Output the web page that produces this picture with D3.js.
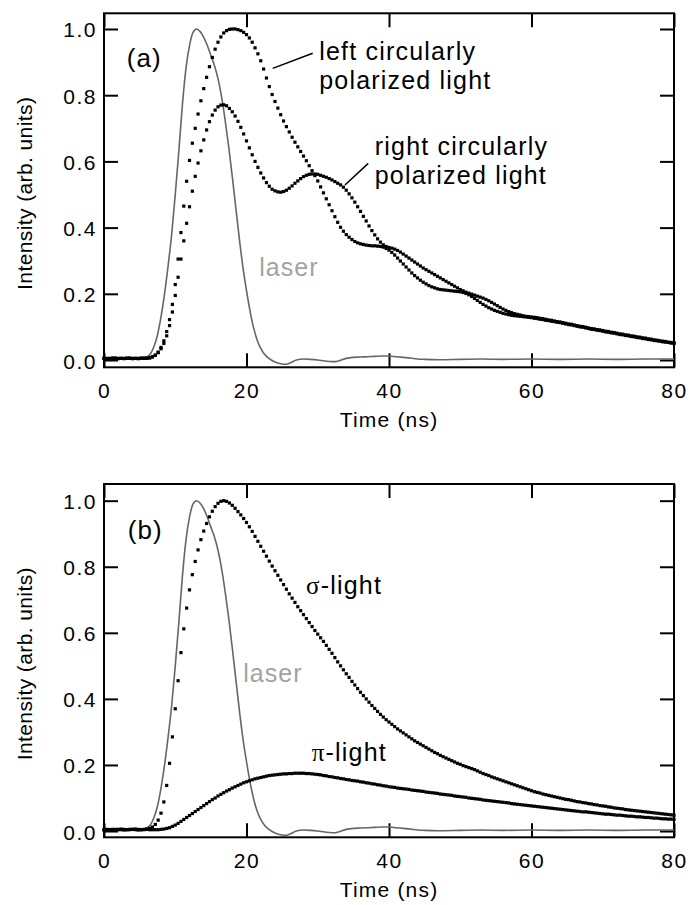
<!DOCTYPE html>
<html>
<head>
<meta charset="utf-8">
<script src="https://cdn.jsdelivr.net/npm/d3@7"></script>
<style>
  html, body { margin: 0; padding: 0; background: #fff; }
  svg { display: block; font-family: "Liberation Sans", Arial, Helvetica, sans-serif; }
</style>
</head>
<body>
<svg id="chart" width="690" height="905"></svg>
<script>
// Time between recorded samples of the streak-camera traces (ns)
const sampleStep = 0.4;

// (a) left circularly polarized emission, one value per sample
const leftCircular = [
  0.005,0.004,0.005,0.006,0.005,0.004,0.005,0.005,0.006,0.005,0.004,0.005,0.005,0.006,0.005,0.006,
  0.007,0.010,0.015,0.024,0.038,0.058,0.086,0.122,0.168,0.228,0.305,0.385,0.465,0.540,
  0.603,0.655,0.700,0.743,0.783,0.820,0.854,0.886,0.914,0.939,0.960,0.976,0.988,0.995,0.999,
  1.000,1.000,0.998,0.995,0.990,0.983,0.973,0.960,0.943,0.925,0.904,0.879,0.852,0.826,0.802,
  0.781,0.761,0.741,0.722,0.705,0.689,0.673,0.658,0.644,0.630,0.616,0.602,0.587,0.572,0.557,
  0.541,0.523,0.505,0.487,0.469,0.451,0.433,0.416,0.401,0.389,0.379,0.371,0.364,0.358,0.354,
  0.351,0.349,0.347,0.346,0.345,0.345,0.344,0.343,0.341,0.337,0.332,0.325,0.317,0.308,0.299,
  0.290,0.281,0.272,0.263,0.255,0.248,0.241,0.235,0.230,0.225,0.221,0.218,0.215,0.213,0.212,
  0.211,0.210,0.209,0.208,0.207,0.206,0.204,0.201,0.197,0.192,0.186,0.180,0.174,0.168,0.163,
  0.158,0.154,0.150,0.147,0.144,0.141,0.139,0.137,0.135,0.134,0.133,0.132,0.131,0.130,0.129,
  0.128,
  0.126,0.125,0.123,0.122,0.120,0.119,0.117,0.116,0.114,0.113,
  0.111,0.109,0.107,0.106,0.104,0.102,0.100,0.099,0.097,0.095,
  0.093,0.092,0.090,0.089,0.087,0.085,0.084,0.082,0.081,0.079,
  0.077,0.076,0.074,0.073,0.071,0.070,0.068,0.067,0.065,0.064,
  0.062,0.061,0.059,0.058,0.057,0.055,0.054,0.053,0.051,0.050
];

// (a) right circularly polarized emission
const rightCircular = [
  0.005,0.005,0.004,0.005,0.006,0.005,0.005,0.004,0.005,0.006,0.005,0.005,0.004,0.005,0.006,0.005,
  0.006,0.009,0.014,0.022,0.034,0.050,0.073,0.104,0.145,0.195,0.250,0.305,0.360,0.413,
  0.463,0.510,0.555,0.595,0.632,0.665,0.695,0.720,0.740,0.755,0.765,0.770,0.771,0.768,0.760,
  0.750,0.737,0.721,0.703,0.683,0.662,0.641,0.620,0.600,0.582,0.565,0.550,0.536,0.525,0.516,
  0.511,0.508,0.507,0.509,0.513,0.519,0.526,0.534,0.541,0.548,0.554,0.558,0.561,0.562,0.562,
  0.561,0.558,0.555,0.552,0.548,0.544,0.539,0.534,0.529,0.522,0.513,0.502,0.490,0.477,0.463,
  0.449,0.434,0.420,0.405,0.391,0.378,0.366,0.356,0.348,0.343,0.340,0.338,0.335,0.331,0.326,
  0.320,0.314,0.308,0.302,0.296,0.290,0.284,0.278,0.273,0.268,0.263,0.258,0.253,0.248,0.243,
  0.238,0.233,0.228,0.223,0.218,0.213,0.209,0.205,0.202,0.199,0.196,0.193,0.190,0.187,0.183,
  0.179,0.174,0.169,0.164,0.159,0.154,0.150,0.146,0.143,0.140,0.138,0.136,0.134,0.132,0.131,
  0.130,
  0.129,0.128,0.126,0.125,0.123,0.121,0.120,0.118,0.116,0.115,
  0.113,0.111,0.109,0.108,0.106,0.104,0.102,0.101,0.099,0.097,
  0.095,0.094,0.092,0.091,0.089,0.087,0.086,0.084,0.083,0.081,
  0.079,0.078,0.076,0.075,0.073,0.072,0.070,0.069,0.067,0.066,
  0.064,0.063,0.061,0.060,0.058,0.057,0.056,0.054,0.053,0.052
];

// (b) sigma-polarized emission
const sigmaLight = [
  0.004,0.005,0.004,0.005,0.005,0.004,0.006,0.005,0.004,0.005,0.005,0.006,0.005,0.004,0.005,0.006,
  0.008,0.012,0.020,0.033,0.054,0.088,0.138,0.205,0.285,0.370,0.455,0.540,0.612,0.675,
  0.730,0.776,0.816,0.851,0.882,0.908,0.931,0.951,0.968,0.982,0.992,0.998,1.000,0.998,0.993,
  0.986,0.977,0.967,0.957,0.946,0.934,0.921,0.907,0.892,0.877,0.862,0.847,0.832,0.817,0.802,
  0.788,0.774,0.760,0.746,0.732,0.718,0.705,0.692,0.679,0.667,0.655,0.643,0.631,0.619,0.607,
  0.596,0.585,0.574,0.562,0.550,0.538,0.525,0.512,0.500,0.488,0.476,0.465,0.453,0.442,0.431,
  0.420,0.410,0.400,0.390,0.380,0.371,0.362,0.353,0.345,0.337,0.330,0.323,0.316,0.309,0.303,
  0.297,0.291,0.285,0.279,0.273,0.268,0.263,0.258,0.253,0.248,0.243,0.238,0.234,0.229,0.225,
  0.221,0.217,0.213,0.209,0.205,0.202,0.198,0.195,0.192,0.189,0.186,0.182,0.178,0.174,0.171,
  0.168,0.164,0.161,0.158,0.155,0.152,0.149,0.146,0.143,0.140,0.137,0.134,0.131,0.128,0.125,
  0.122,
  0.119,0.117,0.115,0.112,0.110,0.108,0.106,0.104,0.102,0.100,
  0.098,0.096,0.095,0.093,0.091,0.089,0.088,0.086,0.085,0.083,
  0.082,0.080,0.079,0.077,0.076,0.075,0.073,0.072,0.070,0.069,
  0.068,0.067,0.065,0.064,0.063,0.062,0.061,0.060,0.059,0.058,
  0.057,0.056,0.055,0.054,0.053,0.052,0.051,0.050,0.049,0.048
];

// (b) pi-polarized emission
const piLight = [
  0.003,0.004,0.004,0.003,0.004,0.005,0.004,0.003,0.004,0.004,0.005,0.004,0.003,0.004,0.004,0.005,
  0.004,0.004,0.004,0.004,0.005,0.006,0.008,0.010,0.014,0.018,0.023,0.029,0.035,0.041,
  0.047,0.053,0.059,0.065,0.071,0.077,0.083,0.089,0.095,0.100,0.106,0.111,0.116,0.121,0.125,
  0.130,0.134,0.138,0.142,0.146,0.149,0.152,0.155,0.158,0.160,0.162,0.164,0.166,0.168,0.169,
  0.170,0.171,0.172,0.173,0.173,0.174,0.174,0.175,0.175,0.175,0.175,0.174,0.174,0.173,0.172,
  0.171,0.170,0.168,0.167,0.165,0.164,0.162,0.161,0.159,0.158,0.156,0.155,0.153,0.152,0.151,
  0.149,0.148,0.146,0.145,0.143,0.142,0.140,0.139,0.137,0.136,0.134,
  0.133,0.132,0.130,0.129,0.128,0.127,0.126,0.124,0.123,0.122,
  0.121,0.120,0.118,0.117,0.116,0.115,0.114,0.112,0.111,0.110,
  0.109,0.108,0.106,0.105,0.104,0.103,0.102,0.100,0.099,0.098,
  0.097,0.096,0.094,0.093,0.092,0.091,0.090,0.089,0.088,0.087,
  0.086,0.085,0.083,0.082,0.081,0.080,0.079,0.078,0.077,0.076,
  0.075,0.074,0.073,0.072,0.071,0.070,0.069,0.068,0.067,0.066,
  0.065,0.064,0.063,0.062,0.061,0.060,0.059,0.058,0.058,0.057,
  0.056,0.055,0.054,0.053,0.052,0.051,0.051,0.050,0.049,0.048,
  0.048,0.047,0.046,0.045,0.045,0.044,0.043,0.043,0.042,0.041,
  0.041,0.040,0.039,0.039,0.038,0.037,0.037,0.036,0.036,0.035
];

// Excitation laser pulse (time in ns, normalised intensity)
const laserTime = [0,2,4,5,5.5,6,6.5,7,7.5,8,8.5,9,9.5,10,10.5,11,11.5,12,12.5,13,13.5,14,14.5,15,15.5,16,16.5,17,17.5,18,18.5,19,19.5,20,20.5,21,21.5,22,22.5,23,24,25,25.5,26,27,28,29,30,31,32,32.5,33,34,35,36,37,38,39,40,41,42,43,44,45,47,50,53,56,60,64,68,72,76,80];
const laserValue = [0.004,0.004,0.005,0.005,0.006,0.009,0.018,0.040,0.075,0.130,0.200,0.285,0.380,0.500,0.630,0.770,0.880,0.950,0.990,1.000,0.992,0.975,0.950,0.920,0.890,0.850,0.795,0.725,0.645,0.555,0.460,0.365,0.280,0.210,0.148,0.097,0.060,0.035,0.018,0.007,-0.006,-0.012,-0.013,-0.010,0.000,0.003,0.002,0.000,-0.003,-0.005,-0.005,-0.002,0.005,0.008,0.009,0.010,0.011,0.012,0.012,0.010,0.008,0.006,0.003,0.002,0.001,0.002,0.003,0.002,0.003,0.002,0.003,0.002,0.003,0.003];

// Axis ticks
const timeTicks = [0, 20, 40, 60, 80];
const intensityTicks = [0, 0.2, 0.4, 0.6, 0.8, 1.0];

const svg = d3.select("#chart");
const x = d3.scaleLinear().domain([0, 80]).range([104, 674]);
const laserPoints = laserTime.map((t, i) => [t, laserValue[i]]);
const markerSize = 3.2;

function drawPanel(cfg) {
  const y = d3.scaleLinear().domain(cfg.yDomain).range([cfg.bottom, cfg.top]);
  const g = svg.append("g");

  // inward ticks on all four sides
  const styleAxis = (sel) => {
    sel.attr("font-size", null).attr("font-family", null);
    sel.select(".domain").remove();
    sel.selectAll(".tick line").attr("stroke", "#000").attr("stroke-width", 2);
    sel.selectAll(".tick text").attr("fill", "#000")
      .style("font-size", "21px").style("letter-spacing", "1.5px");
  };
  g.append("g").attr("transform", `translate(${x.range()[0]},0)`)
    .call(d3.axisLeft(y).tickValues(intensityTicks).tickFormat(d3.format(".1f"))
      .tickSizeInner(-14).tickSizeOuter(0).tickPadding(7))
    .call(styleAxis)
    .call(s => s.selectAll(".tick text").attr("dy", "0.38em"));
  g.append("g").attr("transform", `translate(${x.range()[1]},0)`)
    .call(d3.axisRight(y).tickValues(intensityTicks).tickFormat("")
      .tickSizeInner(-14).tickSizeOuter(0))
    .call(styleAxis);
  g.append("g").attr("transform", `translate(0,${cfg.bottom})`)
    .call(d3.axisBottom(x).tickValues(timeTicks).tickFormat(d3.format("d"))
      .tickSizeInner(-14).tickSizeOuter(0).tickPadding(16))
    .call(styleAxis);
  g.append("g").attr("transform", `translate(0,${cfg.top})`)
    .call(d3.axisTop(x).tickValues(timeTicks).tickFormat("")
      .tickSizeInner(-14).tickSizeOuter(0))
    .call(styleAxis);

  // frame
  g.append("rect")
    .attr("x", x.range()[0]).attr("y", cfg.top)
    .attr("width", x.range()[1] - x.range()[0]).attr("height", cfg.bottom - cfg.top)
    .attr("fill", "none").attr("stroke", "#000").attr("stroke-width", 2);

  // laser pulse
  g.append("path").datum(laserPoints)
    .attr("fill", "none").attr("stroke", "#666").attr("stroke-width", 1.6)
    .attr("d", d3.line().x(d => x(d[0])).y(d => y(d[1])).curve(d3.curveMonotoneX));

  // emission traces, one square marker per sample
  cfg.series.forEach(values => {
    g.append("g").selectAll("rect").data(values).join("rect")
      .attr("x", (d, i) => x(i * sampleStep) - markerSize / 2)
      .attr("y", d => y(d) - markerSize / 2)
      .attr("width", markerSize).attr("height", markerSize)
      .attr("fill", "#000");
  });

  // axis titles
  g.append("text")
    .attr("x", (x.range()[0] + x.range()[1]) / 2).attr("y", cfg.bottom + 59.5)
    .attr("text-anchor", "middle").style("font-size", "21px").style("letter-spacing", "1.2px")
    .text("Time (ns)");
  g.append("text")
    .attr("transform", `translate(31.5,${(cfg.top + cfg.bottom) / 2 + 3}) rotate(-90)`)
    .attr("text-anchor", "middle").style("font-size", "21px").style("letter-spacing", "0.4px")
    .text("Intensity (arb. units)");

  // panel letter
  g.append("text")
    .attr("x", x(cfg.letterAt[0])).attr("y", y(cfg.letterAt[1]))
    .style("font-size", "26px").style("letter-spacing", "1px")
    .text(cfg.letter);

  // "laser" label
  g.append("text")
    .attr("x", x(cfg.laserAt[0])).attr("y", y(cfg.laserAt[1]))
    .attr("fill", "#a3a3a3").style("font-size", "25px").style("letter-spacing", "1px")
    .text("laser");

  return { g, y };
}

const annoFont = (sel) => sel.style("font-size", "25px").style("letter-spacing", "1.2px");

// (a) circular polarisation
const pa = drawPanel({
  top: 13.3, bottom: 367.3, yDomain: [-0.022, 1.0474],
  series: [leftCircular, rightCircular],
  letter: "(a)", letterAt: [3.2, 0.885],
  laserAt: [21.8, 0.254]
});
[["left circularly", 30.2, 0.906], ["polarized light", 30.2, 0.820],
 ["right circularly", 38.0, 0.619], ["polarized light", 38.0, 0.533]].forEach(([s, t, v]) => {
  pa.g.append("text").attr("x", x(t)).attr("y", pa.y(v)).call(annoFont).text(s);
});
[[23.68, 0.881, 29.29, 0.9266], [33.82, 0.5287, 37.09, 0.594]].forEach(([t1, v1, t2, v2]) => {
  pa.g.append("line")
    .attr("x1", x(t1)).attr("y1", pa.y(v1)).attr("x2", x(t2)).attr("y2", pa.y(v2))
    .attr("stroke", "#000").attr("stroke-width", 1.5);
});

// (b) linear polarisation
const pb = drawPanel({
  top: 484, bottom: 837.3, yDomain: [-0.019, 1.0505],
  series: [sigmaLight, piLight],
  letter: "(b)", letterAt: [3.35, 0.8826],
  laserAt: [19.55, 0.451]
});
[["σ", 28.35, 0.7175], ["π", 29.15, 0.2128]].forEach(([greek, t, v]) => {
  const txt = pb.g.append("text").attr("x", x(t)).attr("y", pb.y(v)).call(annoFont);
  txt.append("tspan").style("font-family", "'Liberation Serif', 'DejaVu Serif', serif").text(greek);
  txt.append("tspan").text("-light");
});
</script>
</body>
</html>
